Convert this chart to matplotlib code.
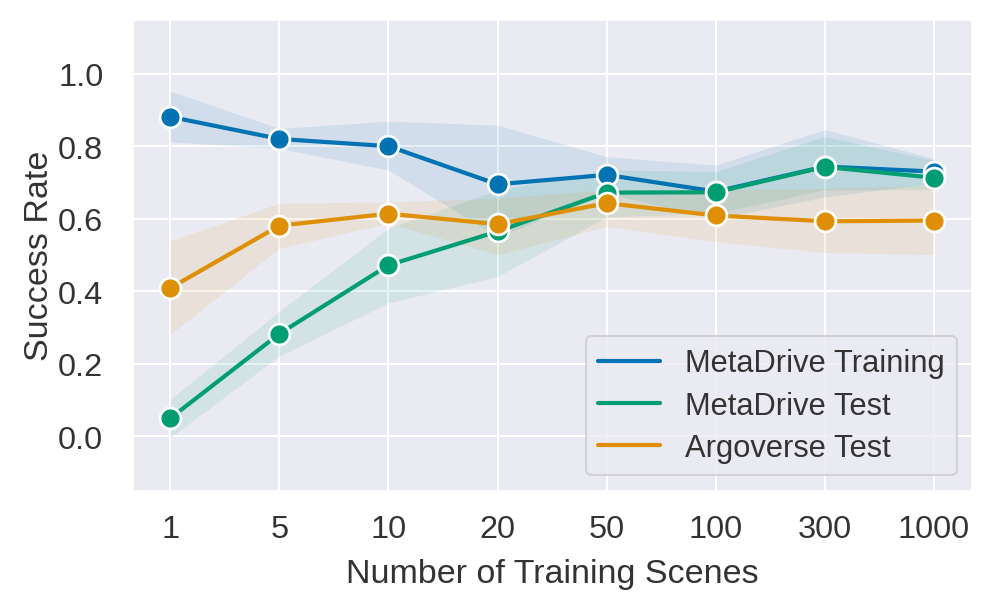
import matplotlib
matplotlib.use("Agg")
import matplotlib.pyplot as plt
import numpy as np
import seaborn as sns

scenes = ["1", "5", "10", "20", "50", "100", "300", "1000"]

train_mean = [0.881, 0.820, 0.800, 0.695, 0.721, 0.675, 0.744, 0.730]
train_low = [0.812, 0.794, 0.734, 0.550, 0.670, 0.600, 0.660, 0.698]
train_high = [0.952, 0.849, 0.869, 0.858, 0.771, 0.748, 0.846, 0.766]

test_mean = [0.050, 0.283, 0.472, 0.565, 0.672, 0.673, 0.743, 0.713]
test_low = [-0.003, 0.222, 0.368, 0.441, 0.605, 0.615, 0.680, 0.680]
test_high = [0.102, 0.345, 0.574, 0.679, 0.735, 0.730, 0.827, 0.760]

argo_mean = [0.409, 0.581, 0.614, 0.585, 0.643, 0.609, 0.593, 0.595]
argo_low = [0.281, 0.519, 0.588, 0.501, 0.579, 0.537, 0.507, 0.501]
argo_high = [0.539, 0.643, 0.646, 0.657, 0.680, 0.680, 0.684, 0.693]

sns.set_theme(style="darkgrid", rc={"grid.linewidth": 1.0})
plt.rcParams["font.family"] = ["Liberation Sans", "DejaVu Sans"]
pal = sns.color_palette("colorblind")

fig, ax = plt.subplots(figsize=(6.62, 4.073), dpi=150)
x = np.arange(len(scenes))

series = [
    ("MetaDrive Training", train_mean, train_low, train_high, pal[0]),
    ("MetaDrive Test", test_mean, test_low, test_high, pal[2]),
    ("Argoverse Test", argo_mean, argo_low, argo_high, pal[1]),
]
for label, m, lo, hi, c in series:
    ax.fill_between(x, lo, hi, color=c, alpha=0.1, linewidth=0)
    ax.plot(x, m, color=c, linewidth=2, label=label)
    ax.plot(x, m, color=c, linestyle="none", marker="o", markersize=10,
            markeredgecolor="white", markeredgewidth=1.3)

ax.set_xticks(x)
ax.set_xticklabels(scenes)
ax.set_ylim(-0.15, 1.15)
ax.set_yticks([0.0, 0.2, 0.4, 0.6, 0.8, 1.0])
ax.tick_params(labelsize=15.6, colors="#333333")
ax.tick_params(axis="y", pad=7.8)
ax.tick_params(axis="x", pad=5.0)
ax.set_xlabel("Number of Training Scenes", fontsize=16.3, color="#333333", labelpad=6.9)
ax.set_ylabel("Success Rate", fontsize=16.3, color="#333333", labelpad=1.6)
leg = ax.legend(loc="lower right", fontsize=14.8, handlelength=2.0, labelspacing=0.4)
for t in leg.get_texts():
    t.set_color("#333333")

plt.subplots_adjust(left=0.133, right=0.979, top=0.967, bottom=0.195)
plt.savefig("out.png", dpi=150)
